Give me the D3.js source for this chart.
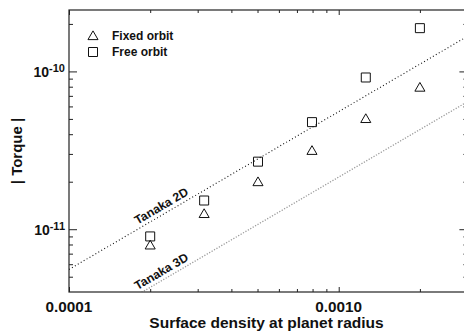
<!DOCTYPE html>
<html><head><meta charset="utf-8">
<script src="https://cdn.jsdelivr.net/npm/d3@7"></script>
<style>
body{margin:0;background:#fff}
svg{display:block}
text{font-family:"Liberation Sans",Arial,Helvetica,sans-serif;font-weight:bold;fill:#111}
</style>
</head><body>
<svg id="c" width="464" height="331"></svg>
<script>
// ---- data ----
const sigma = [2.0e-4, 3.17e-4, 5.02e-4, 7.96e-4, 1.26e-3, 2.0e-3];
const fixedOrbit = [7.9e-12, 1.25e-11, 1.99e-11, 3.14e-11, 5.0e-11, 7.9e-11];
const freeOrbit = [9.0e-12, 1.52e-11, 2.68e-11, 4.77e-11, 9.15e-11, 1.88e-10];
const tanakaSigma = [1e-4, 3e-3];
const tanaka2D = [5.56e-12, 1.668e-10];
const tanaka3D = [2.14e-12, 6.42e-11];
const xMajorTicks = [1e-4, 1e-3];
const xTickLabels = ["0.0001", "0.0010"];
const yMajorTicks = [1e-11, 1e-10];
const yTickExps = ["-11", "-10"];
const seriesNames = ["Fixed orbit", "Free orbit"];
const lineNames = ["Tanaka 2D", "Tanaka 3D"];

// ---- layout ----
const L = 69, R = 467.4, T = 10, B = 292;
const svg = d3.select("#c");
const x = d3.scaleLog().domain([1e-4, 3e-3]).range([L, R]);
const y = d3.scaleLog().domain([4e-12, 2.45e-10]).range([B, T]);

function minors(lo, hi) {
  const out = [];
  for (let e = -13; e <= -1; e++) for (let m = 2; m <= 9; m++) {
    const v = m * Math.pow(10, e);
    if (v > lo && v < hi) out.push(v);
  }
  return out;
}
const xMinor = minors(1e-4, 3e-3);
const yMinor = minors(4e-12, 2.45e-10);

svg.append("clipPath").attr("id", "clip").append("rect")
  .attr("x", L).attr("y", T).attr("width", R - L).attr("height", B - T);

// tanaka lines
const lineGen = d3.line().x(d => x(d[0])).y(d => y(d[1]));
const tStyles = [{c: "#111", d: "1,2.4", w: 1.1}, {c: "#999", d: "1.2,1.6", w: 1.3}];
[tanaka2D, tanaka3D].forEach((vals, i) => {
  svg.append("path")
    .attr("clip-path", "url(#clip)")
    .attr("d", lineGen(tanakaSigma.map((s, k) => [s, vals[k]])))
    .attr("fill", "none").attr("stroke", tStyles[i].c)
    .attr("stroke-width", tStyles[i].w).attr("stroke-dasharray", tStyles[i].d);
});

// tanaka labels rotated along the lines
const ang = -Math.atan((y(1e-11) - y(1e-10)) / (x(1e-3) - x(1e-4))) * 180 / Math.PI;
[tanaka2D, tanaka3D].forEach((vals, i) => {
  const coef = vals[0] / tanakaSigma[0];
  const xs = 139.5;
  const sv = x.invert(xs);
  const yv = y(coef * sv);
  svg.append("text")
    .attr("transform", `translate(${xs},${yv}) rotate(${ang})`)
    .attr("x", 0).attr("y", -4)
    .attr("font-size", 12.2).text(lineNames[i]);
});

// frame
svg.append("rect").attr("x", L).attr("y", T).attr("width", R - L).attr("height", B - T)
  .attr("fill", "none").attr("stroke", "#222").attr("stroke-width", 1.2);

// axes ticks (inward)
function ax(gen, tr, vals, size) {
  const g = svg.append("g").attr("transform", tr)
    .call(gen.tickValues(vals).tickSize(size).tickFormat(""));
  g.select(".domain").remove();
  g.selectAll(".tick line").attr("stroke", "#222").attr("stroke-width", 1);
}
ax(d3.axisBottom(x), `translate(0,${B})`, xMajorTicks, -5);
ax(d3.axisBottom(x), `translate(0,${B})`, xMinor, -3);
ax(d3.axisTop(x), `translate(0,${T})`, xMajorTicks, -5);
ax(d3.axisTop(x), `translate(0,${T})`, xMinor, -3);
ax(d3.axisLeft(y), `translate(${L},0)`, yMajorTicks, -8);
ax(d3.axisLeft(y), `translate(${L},0)`, yMinor, -4);
ax(d3.axisRight(y), `translate(${R},0)`, yMajorTicks, -8);
ax(d3.axisRight(y), `translate(${R},0)`, yMinor, -4);

// tick labels
xMajorTicks.forEach((v, i) => {
  svg.append("text").attr("x", x(v)).attr("y", 311.5)
    .attr("text-anchor", "middle").attr("font-size", 15.3).text(xTickLabels[i]);
});
yMajorTicks.forEach((v, i) => {
  const t = svg.append("text").attr("x", 65).attr("y", y(v) + 6)
    .attr("text-anchor", "end").attr("font-size", 14);
  t.append("tspan").text("10");
  t.append("tspan").attr("font-size", 11).attr("dy", -5).text(yTickExps[i]);
});

// axis titles
svg.append("text").attr("x", (L + 464) / 2).attr("y", 327.5)
  .attr("text-anchor", "middle").attr("font-size", 15.5)
  .text("Surface density at planet radius");
svg.append("text").attr("transform", `translate(22,${(T + B) / 2}) rotate(-90)`)
  .attr("text-anchor", "middle").attr("font-size", 15).text("| Torque |");

// markers
const tri = d3.symbol(d3.symbolTriangle).size(44)();
const sq = d3.symbol(d3.symbolSquare).size(81)();
function marks(vals, path, dy) {
  svg.append("g").selectAll("path").data(sigma).join("path")
    .attr("d", path)
    .attr("transform", (s, k) => `translate(${x(s)},${y(vals[k]) + dy})`)
    .attr("fill", "none").attr("stroke", "#111").attr("stroke-width", 1);
}
marks(fixedOrbit, tri, 0.7);
marks(freeOrbit, sq, 0);

// legend
const legY = [36, 52];
[tri, sq].forEach((p, i) => {
  svg.append("path").attr("d", p)
    .attr("transform", `translate(93,${legY[i] + (i === 0 ? 0.7 : 0)})`)
    .attr("fill", "none").attr("stroke", "#111").attr("stroke-width", 1);
  svg.append("text").attr("x", 112).attr("y", legY[i] + 4.3)
    .attr("font-size", 12).text(seriesNames[i]);
});
</script>
</body></html>
